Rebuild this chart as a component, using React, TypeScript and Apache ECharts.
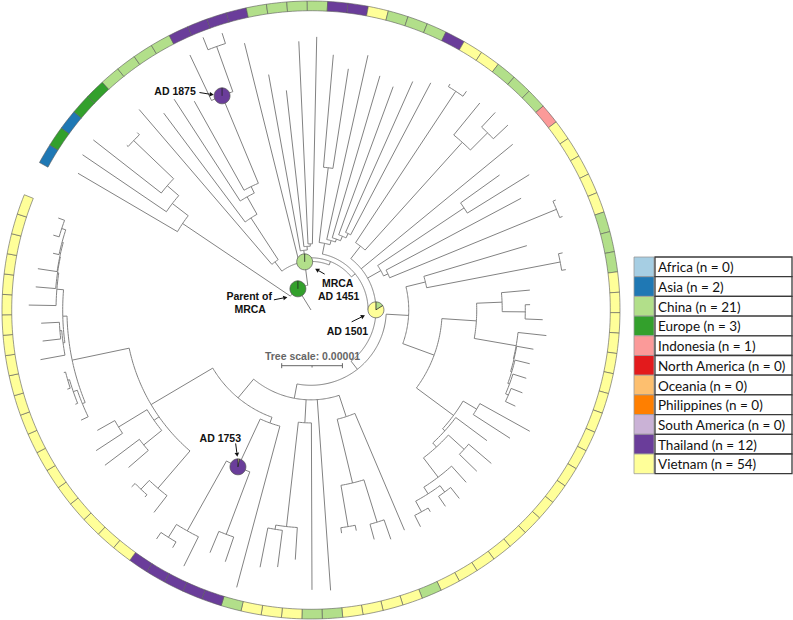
import React, { useEffect, useRef } from "react";
import * as echarts from "echarts";

// Tree scale bar value (substitutions / site). Depths in the Newick string below are
// distances from the root in units of 1e-6 substitutions / site.
const treeScale = 0.00001;
const scaleUnits = 10;

const treeNewick =
  "(((:44.5,(:45.5,(:45.5,(:40.7,:40.9):40.4):31.3):28.8):25.5," +
  "((:43.5,(:40.5,(:41.4,(:39.4,(:46.5,(:48.3,:47.9):46.1)ad1875:38.2):22.6):21.4):18.1):9.9," +
  ":45.3," +
  "((:39.4,(:36.4,(:44.3,:45.0):10.9):10.5):9.9," +
  "(((:42.2,:40.2):23.6,(:43.0,(:40.2,(:39.2,(:41.2,:42.3):14.0):13.2):12.4):11.9):11.2," +
  "(((:43.7,:44.2):43.2,(:44.0,(:44.5,:44.5):41.2):37.2):13.3," +
  ":43.0," +
  "((:38.2,:42.3):30.3,(:39.2,(:44.2,:44.2):43.7):14.0):13.2," +
  "(((:37.1,(:42.5,:42.5):41.8):19.4," +
  "(((:36.2,(:36.1,:38.2):35.3):31.5,(:39.0,(:37.2,(:37.1,(:37.2,(:37.4,:37.2):35.4):34.9):34.6):34.4):34.3):27.3," +
  "((:41.2,:39.0):31.8,(:36.1,((:39.0,:38.1):34.1,(:38.2,((:39.5,:39.2):37.2,(:38.6,:40.0):37.9):35.9):34.6):30.6):29.7):29.2" +
  "):21.6):16.1," +
  "((:39.4,((:40.0,:39.2):36.6,(:37.1,:37.1):36.2):29.3):18.5," +
  ":46.3," +
  "(:46.1,(:41.2,(:42.7,:43.2):36.6):35.9):18.6," +
  "((:47.3,((:43.8,:43.3):39.5,(:47.1,(:45.3,:45.5):44.2):41.7)ad1753:28.5):19.8," +
  "((:42.2,(:41.2,:41.5):40.7):38.7," +
  "((:39.7,:42.5):35.4,(:42.3,:40.4):37.1):31.6," +
  "((:42.0,(:41.8,(:42.2,:42.0):41.7):41.4):40.7,((:45.3,(:44.5,:44.5):41.5):41.2,(:46.5,(:45.5,(:45.5,(:43.5,(:44.2,:44.3):43.2):42.5):42.3):42.2):42.0):40.9):40.2" +
  "):30.6):18.8" +
  "):14.8" +
  "):12.4" +
  ")ad1501:10.7" +
  "):9.4" +
  "):8.6" +
  ")mrca:8.0" +
  ")parent:4.1" +
  "):0";

const regions = [
  "Africa", "Asia", "China", "Europe", "Indonesia", "North America",
  "Oceania", "Philippines", "South America", "Thailand", "Vietnam",
];
const regionCounts = [0, 2, 21, 3, 1, 0, 0, 0, 0, 12, 54];

// Tip regions, clockwise from the top-left gap, as runs [region, number of tips]
const ringRuns: [string, number][] = [
  ["Asia", 1], ["Europe", 1], ["Asia", 1], ["Europe", 2], ["China", 4], ["Thailand", 4],
  ["China", 4], ["Thailand", 2], ["Vietnam", 1], ["China", 3], ["Thailand", 1], ["Vietnam", 2],
  ["China", 3], ["Indonesia", 1], ["Vietnam", 5], ["China", 3], ["Vietnam", 19], ["China", 1],
  ["Vietnam", 4], ["China", 2], ["Vietnam", 3], ["China", 1], ["Thailand", 5], ["Vietnam", 20],
];

// Ancestral-state pies on labelled nodes
const nodeNotes: { node: string; label: string[]; pie: [string, number][] }[] = [
  { node: "parent", label: ["Parent of", "MRCA"], pie: [["Europe", 1]] },
  { node: "mrca", label: ["MRCA", "AD 1451"], pie: [["China", 1]] },
  { node: "ad1501", label: ["AD 1501"], pie: [["China", 0.16], ["Vietnam", 0.84]] },
  { node: "ad1753", label: ["AD 1753"], pie: [["Vietnam", 0.03], ["Thailand", 0.97]] },
  { node: "ad1875", label: ["AD 1875"], pie: [["Thailand", 1]] },
];

const regionColors: Record<string, string> = {
  Africa: "#a6cee3", Asia: "#1f78b4", China: "#b2df8a", Europe: "#33a02c",
  Indonesia: "#fb9a99", "North America": "#e31a1c", Oceania: "#fdbf6f",
  Philippines: "#ff7f00", "South America": "#cab2d6", Thailand: "#6a3d9a", Vietnam: "#ffff99",
};

// label layout (pixel offsets from the node marker)
const noteLayout: Record<string, { text: number[][]; arrow: number[][] }> = {
  parent: { text: [[-48.7, 7], [-47.7, 20]], arrow: [[-24, 11], [-10.5, 8.3]] },
  mrca: { text: [[33, 21.3], [34, 33.8]], arrow: [[20, 12.3], [10.5, 6.8]] },
  ad1501: { text: [[-28.5, 21]], arrow: [[-24.3, 12], [-11, 5.5]] },
  ad1753: { text: [[-17.6, -29.2]], arrow: [[-2.3, -23.4], [-0.6, -10]] },
  ad1875: { text: [[-47, -5]], arrow: [[-22.6, -3.3], [-8.3, -1]] },
};

type TNode = { children: TNode[]; depth: number; label: string; angle: number; parentDepth: number };

function parseNewick(src: string): TNode {
  const s = src.replace(/\s+/g, "");
  let i = 0;
  function node(): TNode {
    const n: TNode = { children: [], depth: 0, label: "", angle: 0, parentDepth: -1 };
    if (s[i] === "(") {
      i++;
      n.children.push(node());
      while (s[i] === ",") { i++; n.children.push(node()); }
      i++;
    }
    let lab = "";
    while (i < s.length && !":,()".includes(s[i])) lab += s[i++];
    n.label = lab;
    if (s[i] === ":") {
      i++;
      let num = "";
      while (i < s.length && /[0-9.eE+-]/.test(s[i])) num += s[i++];
      n.depth = parseFloat(num);
    }
    return n;
  }
  return node();
}

function layout(root: TNode): TNode[] {
  const out: TNode[] = [];
  let tip = 0;
  function walk(n: TNode, pd: number) {
    n.parentDepth = pd;
    if (n.children.length === 0) { n.angle = tip + 0.5; tip++; }
    else {
      n.children.forEach((c) => walk(c, n.depth));
      n.angle = (n.children[0].angle + n.children[n.children.length - 1].angle) / 2;
    }
    out.push(n);
  }
  walk(root, -1);
  return out;
}

function buildOption() {
  const TIP_DEG = 3.8;
  const angleMax = 360 / TIP_DEG;
  const R_MAX = 50.9;
  const RING_IN = 49.3;
  const LINE = "#828282";

  const root = parseNewick(treeNewick);
  const nodes = layout(root);

  const treeData = nodes.map((n) => {
    const hasArc = n.children.length > 1;
    return [
      n.depth, n.angle, n.parentDepth,
      hasArc ? n.children[0].angle : -1,
      hasArc ? n.children[n.children.length - 1].angle : -1,
    ];
  });

  const tipRegion: number[] = [];
  ringRuns.forEach(([r, k]) => { for (let j = 0; j < k; j++) tipRegion.push(regions.indexOf(r)); });
  const ringData = tipRegion.map((reg, i) => [RING_IN, i + 0.5, i, reg]);

  const noteData = nodeNotes.map((nt, k) => {
    const n = nodes.find((x) => x.label === nt.node)!;
    return [n.depth, n.angle, k];
  });

  const legendTop = 257;
  const rowH = 19.7;
  const legendEls: any[] = [];
  regions.forEach((r, i) => {
    const y = legendTop + i * rowH;
    legendEls.push({
      type: "rect", shape: { x: 634, y, width: 20, height: rowH },
      style: { fill: regionColors[r], stroke: "#9a9a9a", lineWidth: 0.8 },
    });
    legendEls.push({
      type: "rect", shape: { x: 655, y, width: 137, height: rowH },
      style: { fill: "#fff", stroke: "#3a3a3a", lineWidth: 1.3 },
    });
    legendEls.push({
      type: "text", x: 658, y: y + rowH / 2 + 0.5,
      style: {
        text: `${r} (n = ${regionCounts[i]})`, fill: "#111",
        font: '13.5px Lato, "Open Sans", sans-serif', verticalAlign: "middle", align: "left",
      },
    });
  });

  const arrow = (p1: number[], p2: number[]) => {
    const dx = p2[0] - p1[0], dy = p2[1] - p1[1];
    const L = Math.hypot(dx, dy) || 1;
    const ux = dx / L, uy = dy / L;
    const hl = 4.2, hw = 2.3;
    const b = [p2[0] - ux * hl, p2[1] - uy * hl];
    return [
      { type: "line", shape: { x1: p1[0], y1: p1[1], x2: b[0], y2: b[1] }, style: { stroke: "#111", lineWidth: 1 } },
      {
        type: "polygon",
        shape: { points: [p2, [b[0] - uy * hw, b[1] + ux * hw], [b[0] + uy * hw, b[1] - ux * hw]] },
        style: { fill: "#111" },
      },
    ];
  };

  return {
    animation: false,
    backgroundColor: "#ffffff",
    polar: { center: [311, 310], radius: 309 },
    angleAxis: { type: "value", min: 0, max: angleMax, startAngle: 151.5, clockwise: true, show: false },
    radiusAxis: { type: "value", min: 0, max: R_MAX, show: false },
    graphic: { elements: legendEls },
    series: [
      {
        type: "custom", coordinateSystem: "polar", silent: true, data: ringData, z: 1,
        renderItem: (_p: any, api: any) => {
          const i = api.value(2);
          const reg = api.value(3);
          const pts: number[][] = [];
          for (let k = 0; k <= 4; k++) pts.push(api.coord([RING_IN, i + k / 4]));
          for (let k = 4; k >= 0; k--) pts.push(api.coord([R_MAX, i + k / 4]));
          return {
            type: "polygon", shape: { points: pts },
            style: { fill: regionColors[regions[reg]], stroke: "#5a5a5a", lineWidth: 0.6 },
          };
        },
      },
      {
        type: "custom", coordinateSystem: "polar", silent: true, data: treeData, z: 2,
        renderItem: (_p: any, api: any) => {
          const d = api.value(0), a = api.value(1), pd = api.value(2);
          const a0 = api.value(3), a1 = api.value(4);
          const ch: any[] = [];
          if (pd >= 0) {
            ch.push({
              type: "polyline", shape: { points: [api.coord([pd, a]), api.coord([d, a])] },
              style: { stroke: LINE, lineWidth: 1, fill: "none" },
            });
          }
          if (a0 >= 0 && d > 0) {
            const pts: number[][] = [];
            for (let t = a0; t < a1; t += 0.2) pts.push(api.coord([d, t]));
            pts.push(api.coord([d, a1]));
            ch.push({ type: "polyline", shape: { points: pts }, style: { stroke: LINE, lineWidth: 1, fill: "none" } });
          }
          return { type: "group", children: ch };
        },
      },
      {
        type: "custom", coordinateSystem: "polar", silent: true, data: [[0, 0]], z: 3,
        renderItem: (_p: any, api: any) => {
          const c0 = api.coord([0, 0]);
          const c1 = api.coord([scaleUnits, 0]);
          const len = Math.hypot(c1[0] - c0[0], c1[1] - c0[1]);
          const x0 = c0[0] - 29.3, y = c0[1] + 55.7;
          const st = { stroke: "#666", lineWidth: 1 };
          return {
            type: "group",
            children: [
              { type: "line", shape: { x1: x0, y1: y, x2: x0 + len, y2: y }, style: st },
              { type: "line", shape: { x1: x0, y1: y - 2.5, x2: x0, y2: y + 2.5 }, style: st },
              { type: "line", shape: { x1: x0 + len, y1: y - 2.5, x2: x0 + len, y2: y + 2.5 }, style: st },
              { type: "line", shape: { x1: x0 + len / 2, y1: y, x2: x0 + len / 2, y2: y + 1.8 }, style: st },
              {
                type: "text",
                style: {
                  text: `Tree scale: ${treeScale.toFixed(5)}`, x: c0[0] + 1.5, y: c0[1] + 45.5,
                  align: "center", verticalAlign: "middle", fill: "#666",
                  font: 'bold 10.5px "Liberation Sans", Arial, sans-serif',
                },
              },
            ],
          };
        },
      },
      {
        type: "custom", coordinateSystem: "polar", silent: true, data: noteData, z: 4,
        renderItem: (_p: any, api: any) => {
          const k = api.value(2);
          const nt = nodeNotes[k];
          const lay = noteLayout[nt.node];
          const c = api.coord([api.value(0), api.value(1)]);
          const R = 8;
          const ch: any[] = [];
          let start = -Math.PI / 2;
          const bounds: number[] = [];
          nt.pie.forEach(([reg, f]) => {
            const end = start + Math.PI * 2 * f;
            bounds.push(start);
            if (f >= 0.999) {
              ch.push({ type: "circle", shape: { cx: c[0], cy: c[1], r: R }, style: { fill: regionColors[reg] } });
            } else {
              ch.push({
                type: "sector",
                shape: { cx: c[0], cy: c[1], r0: 0, r: R, startAngle: start, endAngle: end, clockwise: true },
                style: { fill: regionColors[reg] },
              });
            }
            start = end;
          });
          ch.push({ type: "circle", shape: { cx: c[0], cy: c[1], r: R }, style: { fill: "none", stroke: "#555", lineWidth: 0.7 } });
          bounds.forEach((b) => {
            ch.push({
              type: "line",
              shape: { x1: c[0], y1: c[1], x2: c[0] + R * Math.cos(b), y2: c[1] + R * Math.sin(b) },
              style: { stroke: "#222", lineWidth: 0.8 },
            });
          });
          nt.label.forEach((t, j) => {
            ch.push({
              type: "text",
              style: {
                text: t, x: c[0] + lay.text[j][0], y: c[1] + lay.text[j][1],
                align: "center", verticalAlign: "middle", fill: "#111",
                font: 'bold 10.5px "Liberation Sans", Arial, sans-serif',
              },
            });
          });
          const p1 = [c[0] + lay.arrow[0][0], c[1] + lay.arrow[0][1]];
          const p2 = [c[0] + lay.arrow[1][0], c[1] + lay.arrow[1][1]];
          arrow(p1, p2).forEach((e) => ch.push(e));
          return { type: "group", children: ch };
        },
      },
    ],
  };
}

export default function App() {
  const ref = useRef<HTMLDivElement>(null);
  useEffect(() => {
    if (!ref.current) return;
    const chart = echarts.init(ref.current, null, { renderer: "svg" });
    chart.setOption(buildOption() as any);
    return () => chart.dispose();
  }, []);
  return (
    <div
      ref={ref}
      style={{ position: "absolute", left: 0, top: 0, width: 793, height: 620, background: "#fff" }}
    />
  );
}
